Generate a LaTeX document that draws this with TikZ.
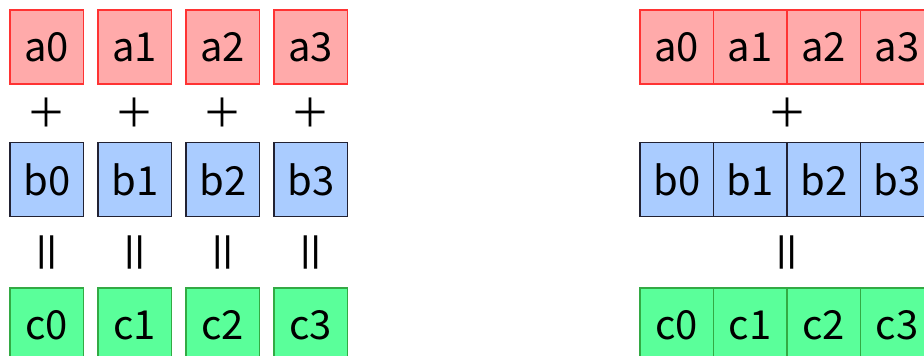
\documentclass[tikz,border=0pt]{standalone}
\usepackage{fontspec}
\setmainfont{Noto Sans CJK JP}
\begin{document}
\begin{tikzpicture}[x=1pt,y=-1pt,
  cell/.style={draw, line width=1.1pt, minimum width=73.5pt, minimum height=74pt, inner sep=0pt, font=\fontsize{40}{40}\selectfont},
  acell/.style={cell, fill=cellA, draw=edgeA},
  bcell/.style={cell, fill=cellB, draw=edgeB},
  ccell/.style={cell, fill=cellC, draw=edgeC},
  op/.style={inner sep=0pt, font=\fontsize{40}{40}\selectfont},
  eqop/.style={inner sep=0pt, rotate=90, font=\fontsize{46}{46}\selectfont}]
\definecolor{cellA}{HTML}{FFAAAA}
\definecolor{edgeA}{HTML}{FF3333}
\definecolor{cellB}{HTML}{AACCFF}
\definecolor{edgeB}{HTML}{222233}
\definecolor{cellC}{HTML}{5AFF9A}
\definecolor{edgeC}{HTML}{33AA44}
\useasboundingbox (0,0) rectangle (924,356);
\clip (0,0) rectangle (924,356);
% left: element-wise
\foreach \i in {0,1,2,3} {
  \node[acell] (la\i) at (46.75+88*\i, 47) {a\i};
  \node[op] (lp\i) at (46.75+88*\i, 113) {＋};
  \node[bcell] (lb\i) at (46.75+88*\i, 179.5) {b\i};
  \node[eqop] (le\i) at (52+88*\i, 252) {＝};
  \node[ccell] (lc\i) at (46.75+88*\i, 325) {c\i};
}
% right: vector
\foreach \i in {0,1,2,3} {
  \node[acell] (ra\i) at (676.75+73.5*\i, 47) {a\i};
  \node[bcell] (rb\i) at (676.75+73.5*\i, 179.5) {b\i};
  \node[ccell] (rc\i) at (676.75+73.5*\i, 325) {c\i};
}
\node[op] (rp) at (787, 113) {＋};
\node[eqop] (re) at (792.5, 252) {＝};
\end{tikzpicture}
\end{document}
